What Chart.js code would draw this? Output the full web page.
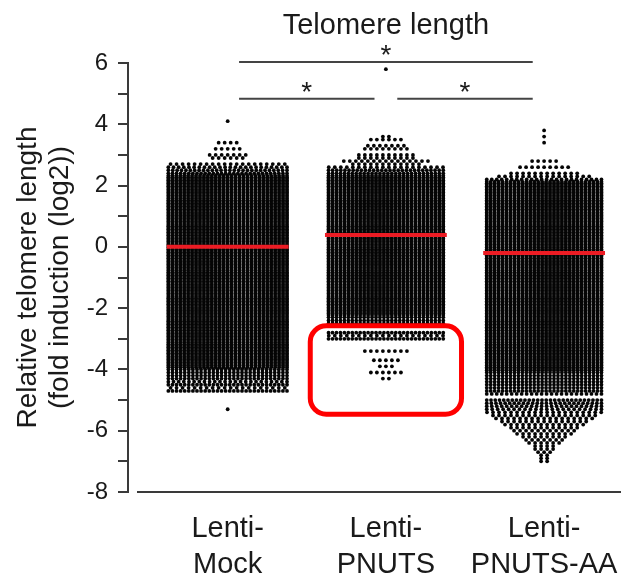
<!DOCTYPE html>
<html>
<head>
<meta charset="utf-8">
<script src="https://cdn.jsdelivr.net/npm/chart.js@4.4.1/dist/chart.umd.min.js"></script>
<style>
  html, body { margin: 0; padding: 0; background: #fff; }
  #wrap { width: 625px; height: 576px; }
</style>
</head>
<body>
<div id="wrap"><canvas id="chart" width="625" height="576"></canvas></div>
<script>
// ---- data -------------------------------------------------------------
const categories = [['Lenti-', 'Mock'], ['Lenti-', 'PNUTS'], ['Lenti-', 'PNUTS-AA']];
const groupMeans = [0.0, 0.39, -0.2];

// Cells per 0.1-wide log2 bin.  core = [top bin, bottom bin] of fully packed rows;
// upper = bins above the core, listed from the highest bin down;
// lower = bins below the core, listed from just under the core down.
const mockCore  = [2.3, -3.9];
const mockUpper = [1, 0, 0, 0, 0, 0, 0, 4, 0, 5, 0, 7, 6, 0, 20, 24, 28, 30];
const mockLower = [30, 30, 30, 30, 24, 30, 20, 30, 0, 0, 0, 0, 0, 1];

const pnutsCore  = [2.3, -2.2];
const pnutsUpper = [1, 0, 0, 0, 0, 0, 0, 0, 0, 0, 0, 0, 0, 0, 0, 0, 0, 0, 0, 0, 0, 0,
                    2, 6, 0, 7, 8, 0, 10, 10, 15, 12, 20, 29, 30];
const pnutsLower = [30, 30, 30, 0, 0, 30, 20, 30, 0, 0, 0, 8, 0, 0, 5, 0, 3, 0, 6, 0, 2];

const aaCore  = [2.1, -4.0];
const aaUpper = [1, 0, 1, 0, 1, 0, 0, 0, 0, 0, 5, 0, 9, 0, 12, 16, 24];
const aaLower = [30, 30, 30, 30, 30, 30, 30, 24, 0, 28, 26, 24, 22, 20, 18, 17, 15, 14,
                 12, 11, 10, 8, 7, 6, 4, 4, 3, 2, 2, 2];

// significance brackets: [from group, to group, label]
const comparisons = [[0, 2, '*'], [0, 1, '*'], [1, 2, '*']];

// ---- dot-plot layout ---------------------------------------------------
const BIN = 0.1;          // bin height (log2 units)
const DX = 0.025;         // spacing between dots in packed rows (category units)
const DX_LOOSE = 0.038;   // spacing between dots in partial rows
const ROW_MAX = [31, 30, 30];

function swarm(g, core, upper, lower) {
  const maxRow = ROW_MAX[g];
  const hi = Math.round(core[0] / BIN), lo = Math.round(core[1] / BIN);
  const rows = [];
  upper.forEach((n, i) => rows.push([hi + upper.length - i, n]));
  for (let b = hi; b >= lo; b--) rows.push([b, 2 * maxRow]);
  lower.forEach((n, i) => rows.push([lo - 1 - i, n]));
  const full = DX * (maxRow - 1);
  const pts = [];
  rows.forEach(([b, n]) => {
    if (!n) return;
    const m = Math.ceil(n / maxRow);
    for (let k = 0; k < m; k++) {
      const c = Math.min(maxRow, n - k * maxRow);
      const sp = c > 1 ? Math.min(DX_LOOSE, full / (c - 1)) : 0;
      const y = b * BIN + (k - (m - 1) / 2) * (BIN / m);
      for (let j = 0; j < c; j++) {
        pts.push({ x: g + (j - (c - 1) / 2) * sp, y });
      }
    }
  });
  return pts;
}

const groups = [
  swarm(0, mockCore, mockUpper, mockLower),
  swarm(1, pnutsCore, pnutsUpper, pnutsLower),
  swarm(2, aaCore, aaUpper, aaLower)
];

const FONT = "'Liberation Sans', Arial, Helvetica, sans-serif";
const INK = '#1a1a1a';
const AXIS = '#3a3a3a';

const dotSets = groups.map(pts => ({
  data: pts,
  showLine: false,
  pointRadius: 1.9,
  pointBorderWidth: 0,
  pointBackgroundColor: '#050505',
  order: 2
}));

const meanSets = groupMeans.map((m, i) => ({
  data: [{ x: i - 0.385, y: m }, { x: i + 0.385, y: m }],
  showLine: true,
  borderColor: '#ec1c24',
  borderWidth: 4,
  pointRadius: 0,
  order: 1
}));

// ---- decorations drawn through the chart scales --------------------------
const decorations = {
  id: 'decorations',
  afterDatasetsDraw(chart) {
    const { ctx, chartArea, scales: { x, y } } = chart;
    ctx.save();

    // x axis baseline, separated from the y axis
    ctx.strokeStyle = AXIS;
    ctx.lineWidth = 2;
    ctx.beginPath();
    ctx.moveTo(chartArea.left + 9, chartArea.bottom);
    ctx.lineTo(chartArea.right, chartArea.bottom);
    ctx.stroke();

    // category labels (two lines each)
    ctx.fillStyle = INK;
    ctx.font = `29px ${FONT}`;
    ctx.textAlign = 'center';
    ctx.textBaseline = 'alphabetic';
    categories.forEach((lines, i) => {
      const px = x.getPixelForValue(i);
      lines.forEach((t, k) => ctx.fillText(t, px, chartArea.bottom + 45 + k * 36));
    });

    // highlighted region (rounded box)
    const bx0 = x.getPixelForValue(1 - 0.478), bx1 = x.getPixelForValue(1 + 0.478);
    const by0 = y.getPixelForValue(-2.575), by1 = y.getPixelForValue(-5.46);
    const r = 16;
    ctx.strokeStyle = '#ff0000';
    ctx.lineWidth = 5;
    ctx.beginPath();
    ctx.moveTo(bx0 + r, by0);
    ctx.arcTo(bx1, by0, bx1, by1, r);
    ctx.arcTo(bx1, by1, bx0, by1, r);
    ctx.arcTo(bx0, by1, bx0, by0, r);
    ctx.arcTo(bx0, by0, bx1, by0, r);
    ctx.closePath();
    ctx.stroke();

    // significance brackets
    const levels = [6.03, 4.83, 4.83];
    ctx.strokeStyle = '#444';
    ctx.lineWidth = 2;
    ctx.font = `28px ${FONT}`;
    comparisons.forEach(([a, b, label], i) => {
      const py = y.getPixelForValue(levels[i]);
      ctx.beginPath();
      ctx.moveTo(x.getPixelForValue(a + 0.072), py);
      ctx.lineTo(x.getPixelForValue(b - 0.072), py);
      ctx.stroke();
      ctx.fillText(label, x.getPixelForValue((a + b) / 2), py + 2);
    });

    // chart title
    ctx.font = `29px ${FONT}`;
    ctx.fillText('Telomere length', x.getPixelForValue(1), chartArea.top - 29);
    ctx.restore();
  }
};

new Chart(document.getElementById('chart'), {
  type: 'scatter',
  data: { datasets: [...meanSets, ...dotSets] },
  options: {
    responsive: false,
    animation: false,
    events: [],
    layout: { padding: { top: 63, left: 0, right: 0, bottom: 0 } },
    plugins: { legend: { display: false }, tooltip: { enabled: false } },
    scales: {
      x: {
        type: 'linear',
        min: -0.63,
        max: 2.486,
        afterFit: s => { s.height = 84; },
        grid: { display: false },
        border: { display: false },
        ticks: { display: false }
      },
      y: {
        min: -8,
        max: 6,
        afterFit: s => { s.width = 128; },
        grid: { drawOnChartArea: false, drawTicks: true, tickLength: 10, lineWidth: 2, color: AXIS },
        border: { display: true, color: AXIS, width: 2 },
        ticks: {
          stepSize: 1,
          autoSkip: false,
          padding: 10,
          color: INK,
          font: { family: FONT, size: 24 },
          callback: v => (v % 2 === 0 ? String(v) : '')
        },
        title: {
          display: true,
          text: ['Relative telomere length', '(fold induction (log2))'],
          color: INK,
          font: { family: FONT, size: 28, lineHeight: 1.143 },
          padding: { top: 12, bottom: 0 }
        }
      }
    }
  },
  plugins: [decorations]
});
</script>
</body>
</html>
